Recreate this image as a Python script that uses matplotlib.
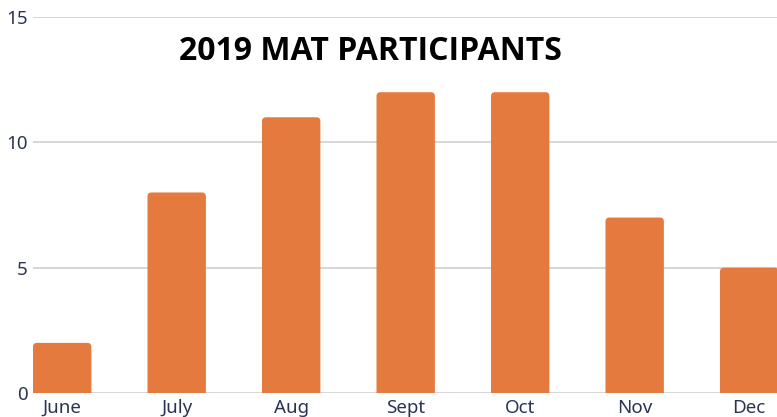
import matplotlib.pyplot as plt
from matplotlib.patches import FancyBboxPatch

months = ['June', 'July', 'Aug', 'Sept', 'Oct', 'Nov', 'Dec']
participants = [2, 8, 11, 12, 12, 7, 5]
y_ticks = [0, 5, 10, 15]

BAR_COLOR = '#E57A3F'
TEXT_COLOR = '#2B3452'

plt.rcParams['font.family'] = ['Noto Sans', 'DejaVu Sans']

fig = plt.figure(figsize=(7.77, 4.17), dpi=100)
ax = fig.add_axes([33 / 777, 1 - 393 / 417, 1 - 33 / 777, (393 - 17) / 417])

x = list(range(len(months)))
bars = ax.bar(x, participants, width=0.51, color=BAR_COLOR, zorder=3)

# swap plain bars for ones with rounded tops (bottom corners fall below 0 and get clipped)
for b in bars:
    rb = FancyBboxPatch((b.get_x(), -1), b.get_width(), b.get_height() + 1,
                        boxstyle='round,pad=0,rounding_size=0.035',
                        mutation_aspect=4.6, facecolor=BAR_COLOR,
                        edgecolor='none', zorder=3)
    ax.add_patch(rb)
    b.remove()

ax.set_xlim(-0.255, 6.243)
ax.set_ylim(0, 15)
ax.set_yticks(y_ticks)
ax.set_xticks(x)
ax.set_xticklabels(months)
ax.grid(axis='y', color='#CFCFCF', linewidth=1.2, zorder=0)
ax.tick_params(length=0, labelsize=13.5, colors=TEXT_COLOR, pad=4)
ax.tick_params(axis='x', pad=4)
for lab in ax.get_xticklabels() + ax.get_yticklabels():
    lab.set_fontweight('medium')
for s in ax.spines.values():
    s.set_visible(False)

fig.text(370 / 777, 1 - 52 / 417, '2019 MAT PARTICIPANTS', ha='center', va='center',
         fontsize=23, fontweight='bold', color='black', family=['Open Sans', 'DejaVu Sans'])

fig.savefig('out.png', dpi=100)
